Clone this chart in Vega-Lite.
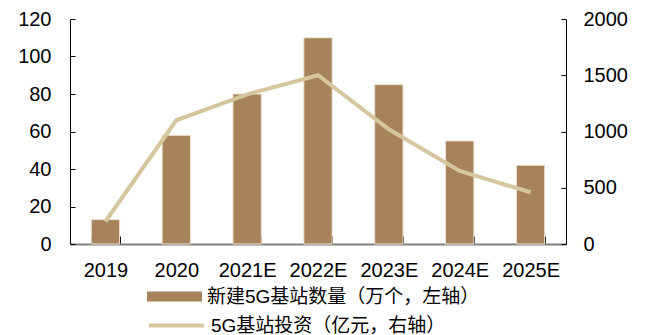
{
  "$schema": "https://vega.github.io/schema/vega-lite/v6.json",
  "width": 496,
  "height": 225,
  "autosize": {"type": "none"},
  "padding": {"left": 70, "top": 19, "right": 80, "bottom": 91},
  "background": "white",
  "config": {
    "view": {"stroke": null},
    "font": "Liberation Sans, Noto Sans CJK SC",
    "axis": {"grid": false, "labelFont": "Liberation Sans", "labelFontSize": 20, "labelColor": "#000000", "domainColor": "#000000", "tickColor": "#000000", "tickWidth": 1, "title": null}
  },
  "data": {
    "values": [
      {"year": "2019", "n": 13, "inv": 200},
      {"year": "2020", "n": 58, "inv": 1100},
      {"year": "2021E", "n": 80, "inv": 1330},
      {"year": "2022E", "n": 110, "inv": 1500},
      {"year": "2023E", "n": 85, "inv": 1020},
      {"year": "2024E", "n": 55, "inv": 650},
      {"year": "2025E", "n": 42, "inv": 460}
    ]
  },
  "encoding": {
    "x": {
      "field": "year", "type": "nominal", "sort": null,
      "scale": {"paddingInner": 0.6, "paddingOuter": 0.3},
      "axis": {"labelAngle": 0, "tickBand": "extent", "tickSize": -8, "labelPadding": 24, "domainColor": "#808080", "domainWidth": 2, "tickColor": "#000000"}
    }
  },
  "layer": [
    {
      "mark": {"type": "bar", "stroke": "#EFE3D2", "strokeWidth": 1},
      "encoding": {
        "y": {"field": "n", "type": "quantitative", "scale": {"domain": [0, 120]}, "axis": {"values": [0,20,40,60,80,100,120], "tickSize": -5, "labelPadding": 24, "domainWidth": 1}},
        "fill": {"datum": "新建5G基站数量（万个，左轴）", "type": "nominal", "scale": {"range": ["#A6835B"]},
          "legend": {"title": null, "orient": "none", "legendX": 77, "legendY": 250, "symbolType": "M-1,-0.18L1,-0.18L1,0.18L-1,0.18Z", "symbolSize": 3025, "symbolStrokeWidth": 0, "labelFontSize": 19, "labelLimit": 0, "labelFont": "Liberation Sans, Noto Sans CJK SC", "labelColor": "#000000", "labelOffset": 5}}
      }
    },
    {
      "mark": {"type": "line", "strokeWidth": 4},
      "encoding": {
        "y": {"field": "inv", "type": "quantitative", "scale": {"domain": [0, 2000]}, "axis": {"orient": "right", "format": "d", "values": [0,500,1000,1500,2000], "tickSize": -5, "labelPadding": 22}},
        "stroke": {"datum": "5G基站投资（亿元，右轴）", "type": "nominal", "scale": {"range": ["#D6C69E"]},
          "legend": {"title": null, "orient": "none", "legendX": 77, "legendY": 277, "symbolType": "M-1,0L1,0", "symbolSize": 3025, "symbolStrokeWidth": 4, "labelFontSize": 19, "labelLimit": 0, "labelFont": "Liberation Sans, Noto Sans CJK SC", "labelColor": "#000000", "labelOffset": 5}}
      }
    }
  ],
  "resolve": {"scale": {"y": "independent", "fill": "independent", "stroke": "independent"}}
}
